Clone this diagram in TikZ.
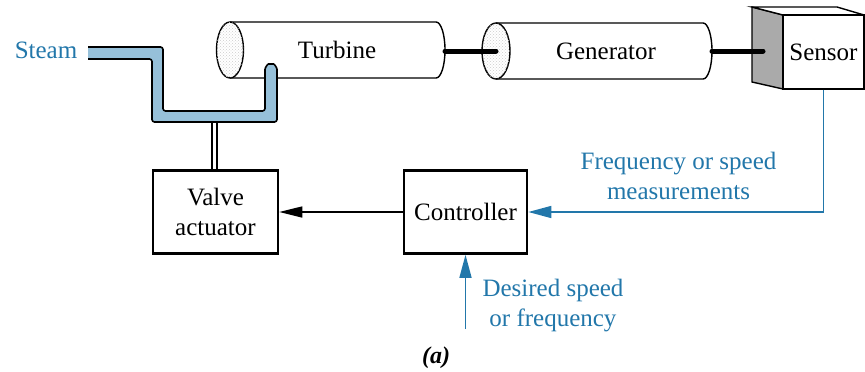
\documentclass[tikz,border=0pt]{standalone}
\usepackage{fontspec}
\setmainfont{Liberation Serif}
\usetikzlibrary{arrows.meta,patterns}
\definecolor{sigblue}{RGB}{34,119,170}
\definecolor{pipeblue}{RGB}{150,192,217}
\definecolor{sideshade}{RGB}{170,170,170}

\begin{document}
\begin{tikzpicture}[x=1pt,y=-1pt,
  lbl/.style={font=\fontsize{25}{30}\selectfont, inner sep=0pt, align=center},
  block/.style={lbl, draw, line width=2.6pt, fill=white},
  cylline/.style={line width=1.4pt},
  endcap/.style={cylline, fill=white, postaction={pattern=crosshatch dots, pattern color=gray!40}},
  shaft/.style={line width=5pt, line cap=round},
  sig/.style={draw=sigblue, line width=1.5pt, -{Triangle[length=23pt,width=12pt]}},
  cmd/.style={draw=black, line width=1.4pt, -{Triangle[length=23pt,width=11pt]}},
  sigtext/.style={lbl, text=sigblue},
]
\useasboundingbox (0,0) rectangle (865,372);

% turbine cylinder
\draw[cylline, fill=white] (230,22) -- (436,22)
  .. controls (441,22) and (445,34.5) .. (445,50)
  .. controls (445,65.5) and (441,78) .. (436,78) -- (230,78);
\draw[endcap] (230,50) ellipse [x radius=13.5, y radius=28];
\node[lbl] (turbine) at (337,50) {Turbine};

% generator cylinder
\draw[cylline, fill=white] (496,23) -- (703,23)
  .. controls (708,23) and (712,35.5) .. (712,51)
  .. controls (712,66.5) and (708,79) .. (703,79) -- (496,79);
\draw[endcap] (496,51) ellipse [x radius=14, y radius=28];
\node[lbl] (generator) at (606,51) {Generator};

% sensor cube
\draw[cylline, fill=sideshade] (752,7) -- (783,15) -- (783,89) -- (752,82) -- cycle;
\draw[cylline, fill=white] (752,7) -- (837,7) -- (864,15) -- (783,15) -- cycle;
\node[lbl, draw, cylline, fill=white, minimum width=81pt, minimum height=74pt] (sensor) at (823.5,52) {Sensor};

% shafts
\coordinate (turbR) at (445,51);
\coordinate (genL) at (496,51);
\coordinate (genR) at (712,51);
\coordinate (sensL) at (763,51);
\draw[shaft] (turbR) -- (genL);
\draw[shaft] (genR) -- (sensL);

% steam pipe
\draw[line width=1.6pt, rounded corners=2.5pt, preaction={fill=pipeblue}]
  (88,47) -- (163,47) -- (163,111) -- (265,111) -- (265,72)
  .. controls (265,67.6) and (267.7,64) .. (271,64)
  .. controls (274.3,64) and (277,67.6) .. (277,72)
  -- (277,122) -- (152,122) -- (152,59) -- (88,59);
\node[sigtext] (steam) at (46,50) {Steam};

% blocks
\node[block, minimum width=125pt, minimum height=83pt] (act) at (215.5,212) {Valve\\actuator};
\node[block, minimum width=123pt, minimum height=83pt] (ctrl) at (465.5,212) {Controller};

% valve stem
\coordinate (stemL) at (212,122);
\coordinate (stemR) at (217,122);
\draw[line width=1.2pt] (stemL) -- (stemL |- act.north) (stemR) -- (stemR |- act.north);

% signals
\draw[cmd] (ctrl.west) -- (act.east);
\draw[sig] (sensor.south) |- (ctrl.east);
\coordinate (setpoint) at (465.5,329);
\draw[sig] (setpoint) -- (ctrl.south);

\node[sigtext] (meas) at (678.5,176) {Frequency or speed\\measurements};
\node[sigtext] (desired) at (553,306) {Desired speed\\or frequency};

\node[lbl, font=\fontsize{24}{30}\selectfont\bfseries\itshape] (caption) at (436,358) {(a)};
\end{tikzpicture}
\end{document}
